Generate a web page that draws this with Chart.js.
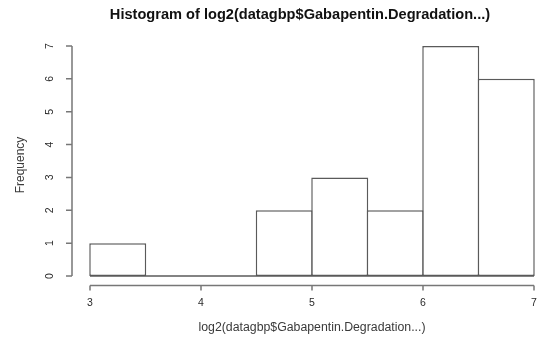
<!DOCTYPE html>
<html lang="en">
<head>
    <meta charset="UTF-8">
    <title>Histogram of log2(datagbp$Gabapentin.Degradation...)</title>
    <script src="https://cdn.jsdelivr.net/npm/chart.js"></script>
    <style>
        body {
            margin: 0;
            background: #ffffff;
        }
        .wrap {
            width: 543px;
            height: 337px;
        }
    </style>
</head>
<body>
    <div class="wrap">
        <canvas id="histChart" width="543" height="337"></canvas>
    </div>

    <script>
        // histogram bins (left edges) and counts
        const binStarts = [3, 3.5, 4, 4.5, 5, 5.5, 6, 6.5];
        const binEnd = 7;
        const counts = [1, 0, 0, 2, 3, 2, 7, 6];
        const xTicks = [3, 4, 5, 6, 7];
        const yTicks = [0, 1, 2, 3, 4, 5, 6, 7];

        const titleText = 'Histogram of log2(datagbp$Gabapentin.Degradation...)';
        const xTitle = 'log2(datagbp$Gabapentin.Degradation...)';
        const yTitle = 'Frequency';

        const edges = binStarts.concat([binEnd]);
        const points = binStarts.map((s, i) => ({ x: (s + edges[i + 1]) / 2, y: counts[i] }));

        const font = "'Liberation Sans', Arial, sans-serif";
        const lineColor = '#5a5a5a';
        const axisColor = '#777777';

        // R style axes, drawn from the chart's own scales
        const rAxes = {
            id: 'rAxes',
            afterDraw(chart) {
                const c = chart.ctx;
                const xs = chart.scales.x;
                const ys = chart.scales.y;
                const area = chart.chartArea;
                c.save();

                // baseline under the bars (zero-height bins)
                c.strokeStyle = lineColor;
                c.lineWidth = 1.5;
                c.beginPath();
                c.moveTo(xs.getPixelForValue(edges[0]), ys.getPixelForValue(0));
                c.lineTo(xs.getPixelForValue(binEnd), ys.getPixelForValue(0));
                c.stroke();

                // x axis
                const axY = area.bottom + 9.5;
                c.strokeStyle = axisColor;
                c.lineWidth = 1.5;
                c.beginPath();
                c.moveTo(xs.getPixelForValue(xTicks[0]), axY);
                c.lineTo(xs.getPixelForValue(xTicks[xTicks.length - 1]), axY);
                xTicks.forEach(v => {
                    const px = xs.getPixelForValue(v);
                    c.moveTo(px, axY);
                    c.lineTo(px, axY + 5);
                });
                c.stroke();

                c.fillStyle = '#2a2a2a';
                c.font = '10.5px ' + font;
                c.textAlign = 'center';
                c.textBaseline = 'middle';
                xTicks.forEach(v => {
                    c.fillText(String(v), xs.getPixelForValue(v), axY + 18);
                });

                // y axis
                const axX = area.left - 18;
                c.beginPath();
                c.moveTo(axX, ys.getPixelForValue(yTicks[0]));
                c.lineTo(axX, ys.getPixelForValue(yTicks[yTicks.length - 1]));
                yTicks.forEach(v => {
                    const py = ys.getPixelForValue(v);
                    c.moveTo(axX, py);
                    c.lineTo(axX - 6, py);
                });
                c.stroke();

                c.font = '10.5px ' + font;
                yTicks.forEach(v => {
                    c.save();
                    c.translate(axX - 22, ys.getPixelForValue(v));
                    c.rotate(-Math.PI / 2);
                    c.fillText(String(v), 0, 0);
                    c.restore();
                });

                // axis titles
                c.fillStyle = '#3a3a3a';
                c.font = '12.3px ' + font;
                c.fillText(xTitle, (area.left + area.right) / 2, 328);

                c.save();
                c.translate(21, 165);
                c.rotate(-Math.PI / 2);
                c.font = '12px ' + font;
                c.fillText(yTitle, 0, 0);
                c.restore();

                // main title
                c.fillStyle = '#111111';
                c.font = 'bold 14.6px ' + font;
                c.fillText(titleText, 300, 15);

                c.restore();
            }
        };

        const ctx = document.getElementById('histChart').getContext('2d');

        const histChart = new Chart(ctx, {
            type: 'bar',
            data: {
                datasets: [{
                    data: points,
                    backgroundColor: '#ffffff',
                    borderColor: lineColor,
                    borderWidth: 1.5,
                    borderSkipped: false,
                    barPercentage: 1.027,
                    categoryPercentage: 1,
                    clip: false
                }]
            },
            options: {
                responsive: false,
                animation: false,
                layout: {
                    padding: { left: 90, right: 9, top: 46, bottom: 61 }
                },
                scales: {
                    x: {
                        type: 'linear',
                        display: false,
                        offset: false,
                        min: edges[0],
                        max: binEnd
                    },
                    y: {
                        display: false,
                        min: 0,
                        max: 7
                    }
                },
                plugins: {
                    legend: { display: false },
                    tooltip: { enabled: false }
                }
            },
            plugins: [rAxes]
        });
    </script>
</body>
</html>
